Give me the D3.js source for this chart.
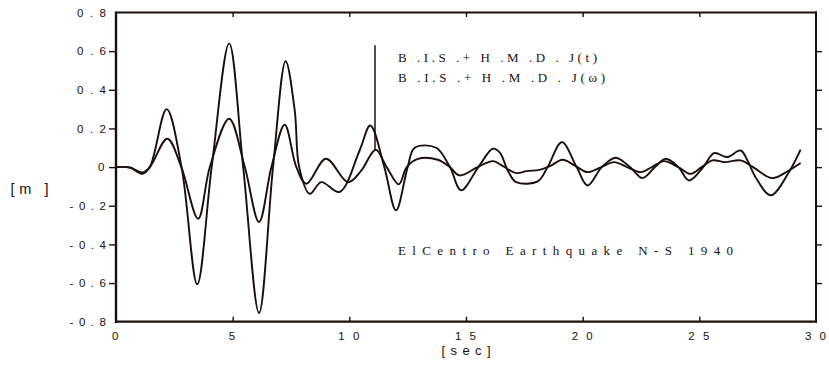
<!DOCTYPE html>
<html>
<head>
<meta charset="utf-8">
<script src="https://cdn.jsdelivr.net/npm/d3@7"></script>
<style>
  html, body { margin: 0; padding: 0; background: #fff; }
  svg { display: block; }
</style>
</head>
<body>
<svg id="chart" width="829" height="365"></svg>
<script>
// ---- data ----
const xTicks = [0, 5, 10, 15, 20, 25, 30];
const xTickLabels = ["0", "5", "10", "15", "20", "25", "30"];
const yTicks = [0.8, 0.6, 0.4, 0.2, 0, -0.2, -0.4, -0.6, -0.8];
const yTickLabels = ["0.8", "0.6", "0.4", "0.2", "0", "-0.2", "-0.4", "-0.6", "-0.8"];

// B.I.S.+H.M.D. J(t) — larger response
const timeJt = [0, 0.6, 1.13, 1.45, 2.17, 2.81, 3.48, 4.1, 4.85, 5.45, 6.13, 6.73, 7.27, 7.66, 7.85,
  8.3, 8.8, 9.58, 10.44, 10.9, 11.5, 12.0, 12.5, 12.8, 13.72, 14.31, 14.79, 15.53, 16.15, 16.45,
  16.8, 17.15, 18.07, 18.5, 19.11, 19.74, 20.21, 20.82, 21.42, 22.03, 22.56, 23.1, 23.56, 24.1,
  24.56, 25.17, 25.63, 26.2, 26.77, 27.06, 27.41, 28.06, 28.84, 29.34];
const valueJt = [0, -0.003, -0.035, 0, 0.30, 0, -0.606, 0, 0.64, 0, -0.755, 0, 0.548, 0.293, 0,
  -0.138, -0.078, -0.129, 0.086, 0.215, 0, -0.224, 0, 0.10, 0.10, 0, -0.12, 0, 0.095, 0.075,
  -0.02, -0.078, -0.074, 0, 0.129, 0, -0.095, 0, 0.048, 0, -0.057, 0, 0.043, 0,
  -0.069, 0, 0.072, 0.052, 0.086, 0.035, -0.052, -0.146, -0.026, 0.09];

// B.I.S.+H.M.D. J(ω) — smaller response
const timeJw = [0, 0.6, 1.13, 1.45, 2.2, 2.8, 3.52, 4.02, 4.85, 5.52, 6.13, 6.66, 7.23, 7.73, 8.16,
  9.0, 9.94, 10.5, 11.13, 11.6, 12.12, 12.46, 12.94, 13.79, 14.31, 14.72, 15.5, 16.15, 16.5, 17.15,
  17.6, 18.15, 18.6, 19.14, 19.7, 20.21, 20.8, 21.35, 21.9, 22.5, 23.0, 23.49, 24.1, 24.63, 25.1,
  25.56, 26.1, 26.77, 27.3, 28.12, 28.8, 29.34];
const valueJw = [0, -0.002, -0.028, 0, 0.147, 0, -0.267, 0, 0.25, 0, -0.284, 0, 0.219, 0, -0.086,
  0.043, -0.078, -0.02, 0.09, 0, -0.089, 0, 0.043, 0.038, 0, -0.043, 0, 0.031, 0.012, -0.031,
  -0.021, -0.014, 0.005, 0.038, 0.005, -0.026, 0, 0.026, 0, -0.026, 0.003, 0.031, 0, -0.035, 0,
  0.035, 0.026, 0.035, 0, -0.057, -0.02, 0.021];

// vertical marker line (t, from value, to value)
const markerT = 11.1;
const markerRange = [0.09, 0.63];

const legendLines = ["B .I.S .+ H .M .D . J(t)", "B .I.S .+ H .M .D . J(\u03c9)"];
const noteText = "ElCentro Earthquake N-S 1940";

// ---- layout ----
const svg = d3.select("#chart");
const L = 116, R = 816, T = 12.5, B = 321.7;
const x = d3.scaleLinear().domain([0, 30]).range([L, R]);
const y = d3.scaleLinear().domain([-0.8, 0.8]).range([B, T]);
const ink = "#1a0f0c";

// ticks via d3 axes
const tickVals = yTicks.slice(1, -1);
svg.append("g").attr("transform", `translate(${L},0)`)
  .call(d3.axisLeft(y).tickValues(tickVals).tickSize(7).tickSizeOuter(0).tickFormat(""));
svg.append("g").attr("transform", `translate(${R},0)`)
  .call(d3.axisLeft(y).tickValues(tickVals).tickSize(-6).tickSizeOuter(0).tickFormat(""));
svg.append("g").attr("transform", `translate(0,${T})`)
  .call(d3.axisBottom(x).tickValues(xTicks.slice(1, -1)).tickSize(4.5).tickSizeOuter(0).tickFormat(""));
svg.append("g").attr("transform", `translate(0,${B})`)
  .call(d3.axisTop(x).tickValues(xTicks.slice(1, -1)).tickSize(5).tickSizeOuter(0).tickFormat(""));
svg.selectAll(".domain").remove();
svg.selectAll(".tick line").attr("stroke", ink).attr("stroke-width", 1.4);

// frame
svg.append("line").attr("x1", L).attr("x2", L).attr("y1", T - 1).attr("y2", B + 1.2)
  .attr("stroke", ink).attr("stroke-width", 2.4);
svg.append("line").attr("x1", L).attr("x2", R + 1).attr("y1", B).attr("y2", B)
  .attr("stroke", ink).attr("stroke-width", 2.2);
svg.append("line").attr("x1", L).attr("x2", R + 1).attr("y1", T).attr("y2", T)
  .attr("stroke", ink).attr("stroke-width", 1.8);
svg.append("line").attr("x1", R).attr("x2", R).attr("y1", T - 0.9).attr("y2", B + 1)
  .attr("stroke", ink).attr("stroke-width", 2);

// tick labels
const sans = "'Liberation Sans', Arial, sans-serif";
yTicks.forEach((v, i) => {
  const lab = yTickLabels[i];
  const w = lab.length === 1 ? null : (lab.length === 3 ? 29 : 36.5);
  const t = svg.append("text")
    .attr("x", 106 - (w || 8))
    .attr("y", y(v) + 4.3)
    .attr("font-family", sans).attr("font-size", 11.5).attr("fill", ink)
    .text(lab);
  if (w) t.attr("textLength", w).attr("lengthAdjust", "spacing");
});
xTicks.forEach((v, i) => {
  const lab = xTickLabels[i];
  const t = svg.append("text")
    .attr("y", 339.5)
    .attr("font-family", sans).attr("font-size", 11.5).attr("fill", ink)
    .text(lab);
  if (lab.length === 1) {
    t.attr("x", x(v) - 0.8).attr("text-anchor", "middle");
  } else {
    t.attr("x", x(v) - 11).attr("textLength", 21).attr("lengthAdjust", "spacing");
  }
});

// axis titles
svg.append("text").attr("x", 441.5).attr("y", 355)
  .attr("font-family", sans).attr("font-size", 13).attr("fill", ink)
  .attr("textLength", 49).attr("lengthAdjust", "spacing").text("[sec]");
svg.append("text").attr("x", 10.5).attr("y", 194)
  .attr("font-family", sans).attr("font-size", 14.5).attr("fill", ink)
  .attr("textLength", 38).attr("lengthAdjust", "spacing").text("[m ]");

// curves
const line = d3.line().x(d => x(d[0])).y(d => y(d[1])).curve(d3.curveCatmullRom.alpha(0.5));
const dataJt = timeJt.map((t, i) => [t, valueJt[i]]);
const dataJw = timeJw.map((t, i) => [t, valueJw[i]]);
[dataJw, dataJt].forEach(d => {
  svg.append("path").datum(d).attr("d", line)
    .attr("fill", "none").attr("stroke", ink).attr("stroke-width", 1.9)
    .attr("stroke-linejoin", "round");
});

// marker line
svg.append("line")
  .attr("x1", x(markerT)).attr("x2", x(markerT))
  .attr("y1", y(markerRange[1])).attr("y2", y(markerRange[0]))
  .attr("stroke", ink).attr("stroke-width", 1.5);

// legend texts
const serif = "'Liberation Serif', 'Times New Roman', serif";
svg.append("text").attr("x", 398).attr("y", 61.5)
  .attr("font-family", serif).attr("font-size", 13).attr("fill", ink)
  .attr("textLength", 199).attr("lengthAdjust", "spacing").text(legendLines[0]);
svg.append("text").attr("x", 398).attr("y", 81.5)
  .attr("font-family", serif).attr("font-size", 13).attr("fill", ink)
  .attr("textLength", 207).attr("lengthAdjust", "spacing").text(legendLines[1]);
svg.append("text").attr("x", 398).attr("y", 254.7)
  .attr("font-family", serif).attr("font-size", 13).attr("fill", ink)
  .attr("textLength", 335).attr("lengthAdjust", "spacing").text(noteText);
</script>
</body>
</html>
